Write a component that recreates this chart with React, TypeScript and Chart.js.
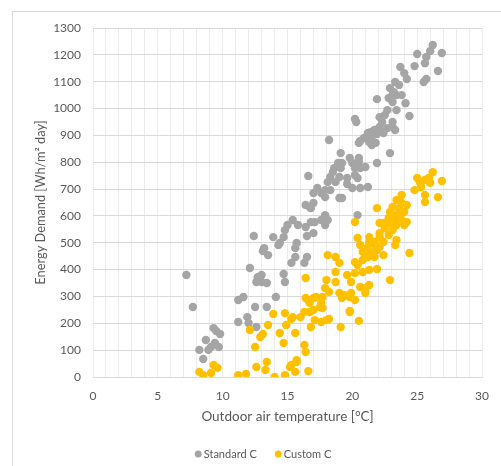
import React, { useEffect, useRef } from "react";
import { Chart, registerables } from "chart.js";

Chart.register(...registerables);

const seriesNames = ["Standard C", "Custom C"];
const seriesColors = ["#A5A5A5", "#FFC000"];

const xLabelTicks = [0, 5, 10, 15, 20, 25, 30];
const yTicks = [0, 100, 200, 300, 400, 500, 600, 700, 800, 900, 1000, 1100, 1200, 1300];

const standardX = [
  7.2, 7.7, 8.2, 8.5, 8.7, 9.1, 8.9, 9.3, 9.5, 9.8, 9.4, 9.7,
  12.1, 12.7, 13.0, 13.4, 12.6, 11.2, 11.6, 12.5, 13.4, 14.1, 14.7, 14.8,
  11.2, 11.9, 12.6, 12.0, 12.4, 13.1, 13.5, 14.4, 14.7, 15.7, 15.3, 16.5,
  16.3, 16.5, 13.0, 16.6, 17.0, 16.4, 16.8, 15.4, 15.0, 14.8, 15.8, 16.4,
  17.1, 13.9, 14.3, 13.2, 15.6, 15.6,
  21.5, 22.9, 21.9, 19.1, 19.8, 20.5, 20.5, 20.0, 19.2, 18.9, 18.6, 19.1,
  20.2, 20.6, 21.0, 18.5, 18.3, 19.0, 20.2, 20.4, 19.6, 18.7, 18.1, 19.6,
  20.0, 20.6, 21.2, 18.3, 17.9, 17.3, 17.6, 17.9, 19.0, 19.2, 17.0, 16.7,
  17.9, 17.6, 18.1, 17.9, 16.8, 17.0, 20.4,
  26.2, 26.0, 25.7, 25.6, 25.0, 26.9, 24.8, 26.6, 25.7, 25.5, 23.7, 24.0,
  24.2, 23.3, 23.6, 22.9, 23.2, 23.1, 23.4, 22.8, 23.8, 21.9, 23.1, 24.1,
  22.7, 23.4, 22.5, 22.1, 22.3, 24.4, 20.2, 20.3, 23.1, 23.1, 22.1, 21.7,
  21.4, 21.2, 21.5, 21.9, 20.9, 20.6, 18.2, 21.3, 21.8, 23.3, 22.7, 22.4,
  20.5,
];
const standardY = [
  380, 261, 101, 67, 138, 112, 101, 182, 171, 160, 127, 112,
  406, 372, 354, 350, 354, 287, 298, 261, 261, 298, 384, 354,
  205, 223, 186, 201, 525, 469, 454, 499, 521, 499, 425, 447,
  425, 525, 380, 749, 685, 641, 629, 585, 566, 547, 566, 559,
  577, 521, 492, 480, 480, 447,
  864, 834, 797, 834, 816, 816, 801, 797, 797, 797, 778, 778,
  778, 778, 782, 764, 745, 745, 752, 741, 741, 726, 726, 719,
  704, 704, 708, 696, 696, 704, 685, 670, 667, 667, 648, 633,
  603, 585, 585, 566, 577, 536, 603,
  1237, 1214, 1192, 1169, 1203, 1207, 1158, 1140, 1110, 1099, 1155, 1132,
  1110, 1099, 1088, 1076, 1061, 1050, 1050, 1039, 1050, 1035, 1024, 1020,
  994, 994, 976, 968, 950, 972, 961, 950, 950, 931, 931, 920,
  912, 909, 894, 905, 890, 879, 883, 875, 872, 920, 927, 909,
  872,
];

const customX = [
  8.2, 8.5, 9.1, 9.3, 9.6, 11.2, 11.8, 12.1, 12.9, 12.5, 13.1, 12.6,
  13.4, 13.3, 14.0, 14.8, 13.5, 13.9, 14.4, 14.7, 14.8, 14.9, 15.4, 15.6,
  15.7, 15.3, 15.6, 16.4, 16.4, 17.0, 16.3, 16.7, 16.0, 16.8, 16.3, 16.4,
  16.6, 15.2, 15.7, 15.3,
  18.1, 18.7, 18.0, 18.7, 17.2, 16.6, 17.5, 18.0, 17.6, 18.2, 19.1, 19.8,
  20.5, 21.0, 22.9, 24.4, 21.9, 19.0, 20.4, 19.6, 20.2, 20.8, 21.3, 18.7,
  19.9, 20.6, 21.3, 21.0, 17.9, 18.2, 17.7, 19.0, 19.4, 19.9, 19.2, 19.8,
  20.2, 17.6, 17.7, 16.7, 17.0, 19.8, 17.1,
  26.2, 26.9, 25.9, 26.0, 25.6, 25.0, 25.2, 24.8, 25.3, 25.6, 25.6, 26.6,
  23.8, 23.4, 23.8, 24.2, 23.1, 23.6, 24.0, 22.9, 23.3, 23.7, 22.8, 23.3,
  23.8, 24.2, 22.4, 22.9, 23.4, 22.1, 24.0, 21.9, 20.2, 22.5, 23.1, 22.1,
  22.8, 22.1, 21.3, 20.4, 23.4, 21.3, 21.7, 22.4, 23.3, 20.6, 21.2, 21.8,
  22.1, 20.8, 21.4, 21.9, 22.4, 21.7, 21.2, 20.2, 20.8,
];
const customY = [
  19, 7, 15, 45, 34, 7, 11, 175, 149, 112, 160, 37,
  56, 26, 0, 7, 194, 235, 164, 127, 238, 194, 223, 164,
  56, 45, 19, 369, 294, 294, 242, 242, 223, 186, 119, 93,
  22, 37, 63, 216,
  454, 447, 361, 354, 298, 287, 261, 212, 205, 216, 186, 242,
  209, 331, 361, 462, 402, 425, 417, 380, 387, 391, 399, 391,
  354, 335, 343, 313, 331, 317, 298, 313, 305, 313, 294, 298,
  287, 276, 257, 276, 250, 246, 212,
  763, 730, 741, 723, 734, 741, 726, 696, 708, 678, 652, 670,
  678, 659, 648, 641, 633, 629, 615, 615, 603, 603, 592, 585,
  585, 577, 574, 574, 566, 574, 566, 629, 577, 555, 547, 536,
  529, 521, 521, 518, 510, 503, 503, 503, 492, 492, 484, 492,
  484, 466, 466, 473, 454, 447, 447, 428, 436,
];

const FONT = "Lato, 'Open Sans', sans-serif";
const TEXT = "#595959";

const framePlugin = {
  id: "frame",
  beforeDraw(chart: any) {
    const c = chart.ctx;
    c.save();
    c.fillStyle = "#ffffff";
    c.fillRect(0, 0, chart.width, chart.height);
    c.strokeStyle = "#d9d9d9";
    c.lineWidth = 1;
    c.strokeRect(12.5, 11.5, 700, 700);
    c.restore();
  },
};

// legend drawn centred below the x-axis title
const legendPlugin = {
  id: "customLegend",
  afterDraw(chart: any) {
    const c = chart.ctx;
    c.save();
    c.font = `11px ${FONT}`;
    c.textBaseline = "middle";
    c.textAlign = "left";
    const r = 3.5;
    const dotGap = 2;
    const itemGap = 18;
    const items = chart.data.datasets.map((d: any) => ({
      text: d.label,
      color: d.backgroundColor,
      w: r * 2 + dotGap + c.measureText(d.label).width,
    }));
    const total = items.reduce((s: number, it: any) => s + it.w, 0) + itemGap * (items.length - 1);
    let x = 263 - total / 2;
    const y = 454;
    for (const it of items) {
      c.fillStyle = it.color;
      c.beginPath();
      c.arc(x + r, y, r, 0, Math.PI * 2);
      c.fill();
      c.fillStyle = TEXT;
      c.fillText(it.text, x + r * 2 + dotGap, y);
      x += it.w + itemGap;
    }
    c.restore();
  },
};

export default function App() {
  const ref = useRef<HTMLCanvasElement | null>(null);

  useEffect(() => {
    if (!ref.current) return;
    const toPts = (xs: number[], ys: number[]) => xs.map((x, i) => ({ x, y: ys[i] }));
    const chart = new Chart(ref.current, {
      type: "scatter",
      data: {
        datasets: [
          {
            label: seriesNames[0],
            data: toPts(standardX, standardY),
            backgroundColor: seriesColors[0],
            borderColor: seriesColors[0],
            borderWidth: 0,
            pointRadius: 4.2,
            order: 1,
          },
          {
            label: seriesNames[1],
            data: toPts(customX, customY),
            backgroundColor: seriesColors[1],
            borderColor: seriesColors[1],
            borderWidth: 0,
            pointRadius: 4.2,
            order: 0,
          },
        ],
      },
      options: {
        responsive: false,
        animation: false,
        layout: { padding: { left: 29, top: 28, right: 15, bottom: 0 } },
        plugins: {
          tooltip: { enabled: false },
          legend: { display: false },
        },
        scales: {
          x: {
            type: "linear",
            min: 0,
            max: 30,
            afterFit: (s: any) => {
              s.height = 89;
            },
            ticks: {
              stepSize: 1,
              autoSkip: false,
              maxRotation: 0,
              padding: 12,
              color: TEXT,
              font: { family: FONT, size: 12 },
              callback: (v: any) => (xLabelTicks.includes(Number(v)) ? String(v) : ""),
            },
            grid: { color: "#ececec", drawTicks: false },
            border: { display: true, color: "#d9d9d9" },
            title: {
              display: true,
              text: "Outdoor air temperature [°C]",
              color: TEXT,
              font: { family: FONT, size: 13.5 },
              padding: { top: 4, bottom: 41 },
            },
          },
          y: {
            type: "linear",
            min: yTicks[0],
            max: yTicks[yTicks.length - 1],
            afterFit: (s: any) => {
              s.width = 64;
            },
            ticks: {
              stepSize: 100,
              padding: 12,
              color: TEXT,
              font: { family: FONT, size: 12 },
              callback: (v: any) => String(v),
            },
            grid: { color: "#d9d9d9", drawTicks: false },
            border: { display: false },
            title: {
              display: true,
              text: "Energy Demand [Wh/m² day]",
              color: TEXT,
              font: { family: FONT, size: 12.8 },
              padding: { top: 4, bottom: 4 },
            },
          },
        },
      },
      plugins: [framePlugin, legendPlugin],
    } as any);
    return () => chart.destroy();
  }, []);

  return (
    <div style={{ position: "absolute", left: 0, top: 0, width: 501, height: 466 }}>
      <canvas ref={ref} width={501} height={466} style={{ width: 501, height: 466 }} />
    </div>
  );
}
